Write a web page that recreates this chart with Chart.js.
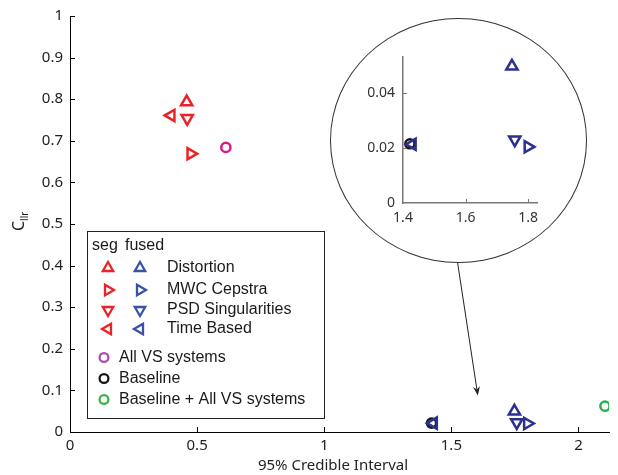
<!DOCTYPE html>
<html>
<head>
<meta charset="utf-8">
<script src="https://cdn.jsdelivr.net/npm/chart.js@4.4.0/dist/chart.umd.min.js"></script>
<style>
  html, body { margin: 0; padding: 0; background: #fff; }
  #wrap { position: relative; width: 618px; height: 475px; overflow: hidden; }
  #main { position: absolute; left: 0; top: 0; }
  #lens { position: absolute; left: 330px; top: 18px; width: 257px; height: 245px;
          box-sizing: border-box; border: 1px solid #333; border-radius: 50%; background: #fff; }
  #inset { position: absolute; left: 340px; top: 40px; }
</style>
</head>
<body>
<div id="wrap">
  <canvas id="main" width="618" height="475"></canvas>
  <div id="lens"></div>
  <canvas id="inset" width="220" height="190"></canvas>
</div>
<script>
// Individual systems: segment-level (seg) and fused scores
const systems   = ['Distortion', 'MWC Cepstra', 'PSD Singularities', 'Time Based'];
const segX      = [0.459, 0.475, 0.461, 0.398];
const segY      = [0.793, 0.669, 0.754, 0.761];
const fusedX    = [1.748, 1.799, 1.757, 1.430];
const fusedY    = [0.0496, 0.0204, 0.0230, 0.0213];

// Combined systems
const comboNames = ['All VS systems', 'Baseline', 'Baseline + All VS systems'];
const comboX     = [0.613, 1.422, 2.104];
const comboY     = [0.684, 0.0215, 0.062];

// Axis ticks
const xTicks      = [0, 0.5, 1, 1.5, 2];
const yTicks      = [0, 0.1, 0.2, 0.3, 0.4, 0.5, 0.6, 0.7, 0.8, 0.9, 1];
const insetXTicks = [1.4, 1.6, 1.8];
const insetYTicks = [0, 0.02, 0.04];

// Zoom arrow (data coordinates)
const arrowFrom = [1.524, 0.409];
const arrowTo   = [1.604, 0.088];

// Styles
const markerRotation = [0, 90, 180, 270];   // up, right, down, left
const SEG_RED   = '#ec2227';
const FUSED_BLUE = '#2c3190';
const comboColors  = ['#dd168b', '#161616', '#25b14b'];
const legendBlue   = '#3a52a6';
const legendCombo  = ['#a84fac', '#161616', '#3fb049'];
const FONT_FAMILY = '"Noto Sans", "Open Sans", sans-serif';
const TICK_FONT = { family: FONT_FAMILY, size: 15 };
const LEGEND_FONT = '16px "Liberation Sans", Arial, sans-serif';

function pts(xs, ys) { return xs.map((x, i) => ({ x: x, y: ys[i] })); }

function makeDatasets(filter) {
  const keep = p => !filter || filter(p);
  const seg = pts(segX, segY), fused = pts(fusedX, fusedY), combo = pts(comboX, comboY);
  const pick = (arr, extra) => {
    const idx = arr.map((p, i) => i).filter(i => keep(arr[i]));
    return { data: idx.map(i => arr[i]), extra: idx.map(i => extra[i]) };
  };
  const s = pick(seg, markerRotation), f = pick(fused, markerRotation), c = pick(combo, comboColors);
  return [
    { label: 'seg', data: s.data, pointStyle: 'triangle', pointRotation: s.extra,
      pointRadius: 6.5, pointBorderWidth: 2.5, pointBorderColor: SEG_RED,
      pointBackgroundColor: 'rgba(0,0,0,0)', order: 1 },
    { label: 'fused', data: f.data, pointStyle: 'triangle', pointRotation: f.extra,
      pointRadius: 6.5, pointBorderWidth: 2.5, pointBorderColor: FUSED_BLUE,
      pointBackgroundColor: 'rgba(0,0,0,0)', order: 0 },
    { label: 'combined', data: c.data, pointStyle: 'circle', pointRadius: 4.6,
      pointBorderWidth: 2.5, pointBorderColor: c.extra,
      pointBackgroundColor: 'rgba(0,0,0,0)', order: 2 }
  ];
}

// Tick marks drawn on the inside of the axes
function inwardTicks(len, color, width) {
  return {
    id: 'inwardTicks',
    afterDraw(chart) {
      const { ctx, chartArea, scales } = chart;
      ctx.save();
      ctx.strokeStyle = color; ctx.lineWidth = width;
      ctx.beginPath();
      scales.x.ticks.forEach(t => {
        const px = Math.round(scales.x.getPixelForValue(t.value)) + 0.5;
        if (Math.abs(px - chartArea.left) < 2) return;
        ctx.moveTo(px, chartArea.bottom); ctx.lineTo(px, chartArea.bottom - len);
      });
      scales.y.ticks.forEach(t => {
        const py = Math.round(scales.y.getPixelForValue(t.value)) + 0.5;
        if (Math.abs(py - chartArea.bottom) < 2) return;
        ctx.moveTo(chartArea.left, py); ctx.lineTo(chartArea.left + len, py);
      });
      ctx.stroke();
      ctx.restore();
    }
  };
}

function marker(ctx, style, rotation, radius, color, x, y) {
  ctx.save();
  ctx.strokeStyle = color; ctx.fillStyle = 'rgba(0,0,0,0)'; ctx.lineWidth = 2.3;
  Chart.helpers.drawPoint(ctx, { pointStyle: style, rotation: rotation, radius: radius, borderWidth: 2.3 }, x, y);
  ctx.restore();
}

// Legend box with seg / fused columns and combined systems
const legendPlugin = {
  id: 'customLegend',
  afterDraw(chart) {
    const ctx = chart.ctx;
    ctx.save();
    ctx.fillStyle = '#fff';
    ctx.fillRect(87, 231, 238, 187);
    ctx.strokeStyle = '#222'; ctx.lineWidth = 1;
    ctx.strokeRect(87.5, 231.5, 237, 187);
    ctx.font = LEGEND_FONT; ctx.fillStyle = '#1a1a1a'; ctx.textBaseline = 'middle';
    ctx.fillText('seg', 92, 246);
    ctx.fillText('fused', 125, 246);
    const rowY = [268, 290, 310, 329];
    systems.forEach((name, i) => {
      marker(ctx, 'triangle', markerRotation[i], 6, SEG_RED, 108, rowY[i]);
      marker(ctx, 'triangle', markerRotation[i], 6, legendBlue, 140, rowY[i]);
      ctx.fillStyle = '#1a1a1a';
      ctx.fillText(name, 167, rowY[i]);
    });
    const comboRowY = [357.5, 378.5, 399.5];
    comboNames.forEach((name, i) => {
      marker(ctx, 'circle', 0, 4.4, legendCombo[i], 104, comboRowY[i]);
      ctx.fillStyle = '#1a1a1a';
      ctx.fillText(name, 119, comboRowY[i]);
    });
    ctx.restore();
  }
};

// Axis titles and zoom arrow
const annotatePlugin = {
  id: 'annotate',
  afterDraw(chart) {
    const { ctx, scales } = chart;
    ctx.save();
    ctx.fillStyle = '#222';
    ctx.font = '15px ' + FONT_FAMILY;
    ctx.textAlign = 'center'; ctx.textBaseline = 'middle';
    ctx.fillText('95% Credible Interval', 333, 466);

    ctx.translate(19, 224);
    ctx.rotate(-Math.PI / 2);
    ctx.textAlign = 'left'; ctx.textBaseline = 'middle';
    ctx.font = '16px ' + FONT_FAMILY;
    const cw = ctx.measureText('C').width;
    ctx.fillText('C', -7, 0);
    ctx.font = '10px ' + FONT_FAMILY;
    ctx.fillText('llr', -7 + cw, 6);
    ctx.restore();

    const x0 = scales.x.getPixelForValue(arrowFrom[0]), y0 = scales.y.getPixelForValue(arrowFrom[1]);
    const x1 = scales.x.getPixelForValue(arrowTo[0]),   y1 = scales.y.getPixelForValue(arrowTo[1]);
    const ang = Math.atan2(y1 - y0, x1 - x0);
    ctx.save();
    ctx.strokeStyle = '#222'; ctx.fillStyle = '#222'; ctx.lineWidth = 1;
    ctx.beginPath();
    ctx.moveTo(x0, y0);
    ctx.lineTo(x1 - 6 * Math.cos(ang), y1 - 6 * Math.sin(ang));
    ctx.stroke();
    ctx.beginPath();
    ctx.moveTo(x1, y1);
    ctx.lineTo(x1 - 9 * Math.cos(ang) + 3.5 * Math.sin(ang), y1 - 9 * Math.sin(ang) - 3.5 * Math.cos(ang));
    ctx.lineTo(x1 - 6 * Math.cos(ang), y1 - 6 * Math.sin(ang));
    ctx.lineTo(x1 - 9 * Math.cos(ang) - 3.5 * Math.sin(ang), y1 - 9 * Math.sin(ang) + 3.5 * Math.cos(ang));
    ctx.closePath();
    ctx.fill();
    ctx.restore();
  }
};

function axis(min, max, ticks, opts) {
  return Object.assign({
    type: 'linear', min: min, max: max,
    afterBuildTicks: s => { s.ticks = ticks.map(v => ({ value: v })); },
    grid: { display: false, drawTicks: false },
    border: { display: true, color: opts.color, width: opts.width },
    ticks: { padding: opts.padding, color: opts.textColor, font: opts.font,
             callback: v => String(v) }
  }, opts.extra);
}

new Chart(document.getElementById('main'), {
  type: 'scatter',
  data: { datasets: makeDatasets(null) },
  options: {
    responsive: false, animation: false, devicePixelRatio: 1,
    layout: { padding: { top: 14, right: 8, left: 0, bottom: 0 } },
    plugins: { legend: { display: false }, tooltip: { enabled: false } },
    scales: {
      x: axis(0, 2.12, xTicks, { color: '#000', width: 1, padding: 5, textColor: '#222', font: TICK_FONT,
                                  extra: { afterFit: s => { s.height = 43; } } }),
      y: axis(0, 1, yTicks, { color: '#000', width: 1, padding: 7, textColor: '#222', font: TICK_FONT,
                              extra: { afterFit: s => { s.width = 70; } } })
    }
  },
  plugins: [inwardTicks(5, '#000', 1), legendPlugin, annotatePlugin]
});

// Magnified view of the fused results
const insetMin = [1.4, 0], insetMax = [1.828, 0.053];
new Chart(document.getElementById('inset'), {
  type: 'scatter',
  data: { datasets: makeDatasets(p => p.x >= insetMin[0] && p.x <= insetMax[0] && p.y >= insetMin[1] && p.y <= insetMax[1]) },
  options: {
    responsive: false, animation: false, devicePixelRatio: 1,
    layout: { padding: { top: 17, right: 23, left: 0, bottom: 0 } },
    plugins: { legend: { display: false }, tooltip: { enabled: false } },
    scales: {
      x: axis(insetMin[0], insetMax[0], insetXTicks, { color: '#777', width: 1.5, padding: 7, textColor: '#333',
           font: { family: FONT_FAMILY, size: 14 }, extra: { afterFit: s => { s.height = 27; } } }),
      y: axis(insetMin[1], insetMax[1], insetYTicks, { color: '#777', width: 1.5, padding: 8, textColor: '#333',
           font: { family: FONT_FAMILY, size: 14 }, extra: { afterFit: s => { s.width = 63; } } })
    }
  },
  plugins: [inwardTicks(4, '#777', 1)]
});
</script>
</body>
</html>
